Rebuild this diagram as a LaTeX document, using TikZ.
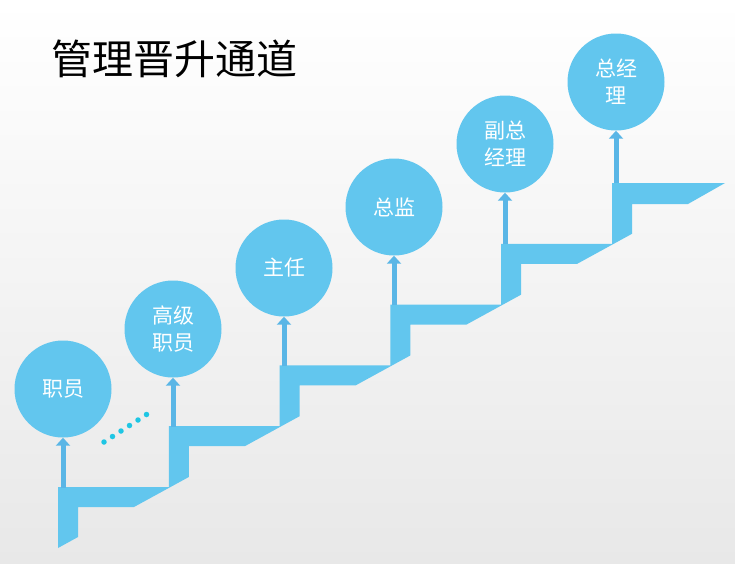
\documentclass[tikz,border=0pt]{standalone}
\usepackage{fontspec}
\newfontfamily\cjk{Noto Sans CJK SC}
\usetikzlibrary{arrows.meta}
\definecolor{stepblue}{HTML}{62C6EE}
\definecolor{arrowblue}{HTML}{5AB6E6}
\definecolor{dotcyan}{HTML}{1EC6E4}
\tikzset{
  stage/.style={circle, fill=stepblue, minimum size=97pt, inner sep=0pt, text=white, font=\cjk\fontsize{21}{27}\selectfont, align=center},
  uparrow/.style={draw=arrowblue, line width=5pt, -{Triangle[width=14pt,length=8pt]}},
  dot/.style={circle, fill=dotcyan, minimum size=5.5pt, inner sep=0pt},
}
\begin{document}
\begin{tikzpicture}[x=1pt,y=-1pt]
\useasboundingbox (0,0) rectangle (735,563);
\shade[top color=white, bottom color=black!9] (0,0) rectangle (735,563);
\node[anchor=west, font=\cjk\fontsize{41}{41}\selectfont, inner sep=0pt] (title) at (51,59) {管理晋升通道};
% staircase
\fill[stepblue] (58,548) -- (58,487) -- (168.8,487) -- (168.8,426.2) -- (279.6,426.2) -- (279.6,365.4)
  -- (390.4,365.4) -- (390.4,304.6) -- (501.2,304.6) -- (501.2,243.8) -- (612,243.8) -- (612,183) -- (725,183)
  -- (688,204) -- (632,204) -- (632,233.8) -- (577.2,263.8) -- (521.2,263.8) -- (521.2,294.6)
  -- (466.4,324.6) -- (410.4,324.6) -- (410.4,355.4) -- (355.6,385.4) -- (299.6,385.4) -- (299.6,416.2)
  -- (244.8,446.2) -- (188.8,446.2) -- (188.8,477) -- (134,507) -- (78,507) -- (78,537) -- cycle;
% circles
\node[stage] (c1) at (63,389) {职员};
\node[stage] (c2) at (173,329) {高级\\职员};
\node[stage] (c3) at (284,268) {主任};
\node[stage] (c4) at (394,207) {总监};
\node[stage] (c5) at (505,144) {副总\\经理};
\node[stage] (c6) at (616,82) {总经\\理};
% step tops
\coordinate (s1) at (63,488);
\coordinate (s2) at (173,427);
\coordinate (s3) at (284,366);
\coordinate (s4) at (394,305);
\coordinate (s5) at (505,244);
\coordinate (s6) at (616,183);
\foreach \i in {1,...,6} \draw[uparrow] (s\i) -- (c\i.south);
% dots
\node[dot] (d1) at (104,442) {};
\node[dot] (d2) at (112.5,436.5) {};
\node[dot] (d3) at (121,431) {};
\node[dot] (d4) at (129.5,425.5) {};
\node[dot] (d5) at (138,420) {};
\node[dot] (d6) at (146.5,414.5) {};
\end{tikzpicture}
\end{document}
